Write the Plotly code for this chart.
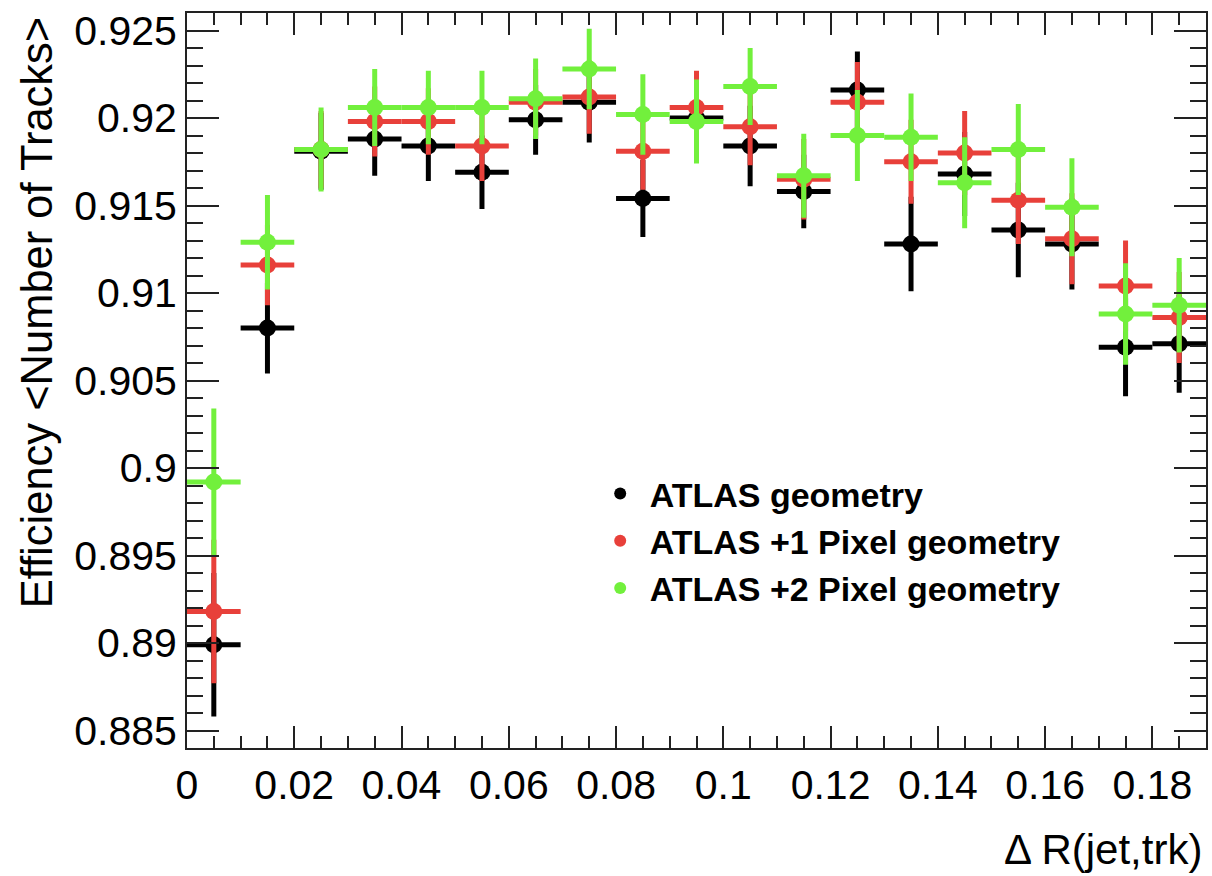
import plotly.graph_objects as go

# ---- data ----
bin_centers = [0.005, 0.015, 0.025, 0.035, 0.045, 0.055, 0.065, 0.075, 0.085, 0.095,
               0.105, 0.115, 0.125, 0.135, 0.145, 0.155, 0.165, 0.175, 0.185]
bin_half_width = 0.005

atlas_eff = [0.8899, 0.9080, 0.9181, 0.9188, 0.9184, 0.9169, 0.9199, 0.9209, 0.9154, 0.9200,
             0.9184, 0.9158, 0.9216, 0.9128, 0.9168, 0.9136, 0.9128, 0.9069, 0.9071]
atlas_err = [0.0041, 0.0026, 0.0022, 0.0021, 0.0020, 0.0021, 0.0020, 0.0023, 0.0022, 0.0022,
             0.0023, 0.0021, 0.0022, 0.0027, 0.0024, 0.0027, 0.0026, 0.0028, 0.0028]

pix1_eff = [0.8918, 0.9116, 0.9182, 0.9198, 0.9198, 0.9184, 0.9209, 0.9212, 0.9181, 0.9206,
            0.9195, 0.9165, 0.9209, 0.9175, 0.9180, 0.9153, 0.9131, 0.9104, 0.9086]
pix1_err = [0.0041, 0.0023, 0.0022, 0.0020, 0.0019, 0.0020, 0.0019, 0.0021, 0.0022, 0.0021,
            0.0022, 0.0023, 0.0023, 0.0024, 0.0024, 0.0025, 0.0026, 0.0026, 0.0026]

pix2_eff = [0.8992, 0.9129, 0.9182, 0.9206, 0.9206, 0.9206, 0.9211, 0.9228, 0.9202, 0.9198,
            0.9218, 0.9167, 0.9190, 0.9189, 0.9163, 0.9182, 0.9149, 0.9088, 0.9093]
pix2_err = [0.0042, 0.0027, 0.0024, 0.0022, 0.0021, 0.0021, 0.0023, 0.0023, 0.0023, 0.0024,
            0.0022, 0.0024, 0.0026, 0.0025, 0.0026, 0.0026, 0.0028, 0.0029, 0.0027]

series_names = ["ATLAS geometry", "ATLAS +1 Pixel geometry", "ATLAS +2 Pixel geometry"]
series_colors = ["#000000", "#e8403a", "#72f03c"]

x_tickvals = [0, 0.02, 0.04, 0.06, 0.08, 0.1, 0.12, 0.14, 0.16, 0.18]
x_ticktext = ["0", "0.02", "0.04", "0.06", "0.08", "0.1", "0.12", "0.14", "0.16", "0.18"]
y_tickvals = [0.885, 0.89, 0.895, 0.9, 0.905, 0.91, 0.915, 0.92, 0.925]
y_ticktext = ["0.885", "0.89", "0.895", "0.9", "0.905", "0.91", "0.915", "0.92", "0.925"]

x_title = "Δ R(jet,trk)"
y_title = "Efficiency &lt;Number of Tracks&gt;"

FONT = "Liberation Sans, Arial, sans-serif"

fig = go.Figure()
for name, color, eff, err in zip(series_names, series_colors,
                                 [atlas_eff, pix1_eff, pix2_eff],
                                 [atlas_err, pix1_err, pix2_err]):
    fig.add_trace(go.Scatter(
        x=bin_centers, y=eff, mode="markers", name="&nbsp;<b>" + name + "</b>",
        marker=dict(color=color, size=17, line=dict(width=0)),
        error_y=dict(type="data", array=err, color=color, thickness=5, width=0),
        error_x=dict(type="constant", value=bin_half_width, color=color, thickness=5, width=0),
        cliponaxis=True,
    ))

axis_common = dict(
    showgrid=False, zeroline=False, showline=True, linecolor="#222222", linewidth=2,
    mirror="ticks", ticks="inside", tickcolor="#222222", tickwidth=2,
    tickfont=dict(family=FONT, size=41, color="#000000"),
)

fig.update_xaxes(
    range=[0, 0.19], tickmode="array", tickvals=x_tickvals, ticktext=x_ticktext,
    ticklen=22,
    minor=dict(dtick=0.005, ticks="inside", ticklen=12, tickcolor="#222222", tickwidth=2, showgrid=False),
    **axis_common,
)
fig.update_yaxes(
    range=[0.884, 0.926], tickmode="array", tickvals=y_tickvals, ticktext=y_ticktext,
    ticklen=32,
    minor=dict(dtick=0.001, ticks="inside", ticklen=16, tickcolor="#222222", tickwidth=2, showgrid=False),
    **axis_common,
)

fig.add_annotation(
    text=y_title, textangle=-90, xref="paper", yref="paper",
    x=(37 - 187) / 1021, y=(748 - 14) / 735, xanchor="center", yanchor="top",
    showarrow=False, font=dict(family=FONT, size=43.5, color="#000000"),
)
fig.add_annotation(
    text=x_title, xref="paper", yref="paper",
    x=(1206 - 187) / 1021, y=(748 - 850) / 735, xanchor="right", yanchor="middle",
    showarrow=False, font=dict(family=FONT, size=42, color="#000000"),
)

fig.update_layout(
    width=1212, height=876,
    margin=dict(l=187, r=4, t=13, b=128),
    paper_bgcolor="white", plot_bgcolor="white",
    showlegend=True,
    legend=dict(
        x=(601 - 187) / 1021, y=(748 - 465) / 735, xanchor="left", yanchor="top",
        bgcolor="rgba(0,0,0,0)", borderwidth=0,
        font=dict(family=FONT, size=34, color="#000000"),
        itemsizing="constant",
    ),
)

fig.write_html("out.html")
